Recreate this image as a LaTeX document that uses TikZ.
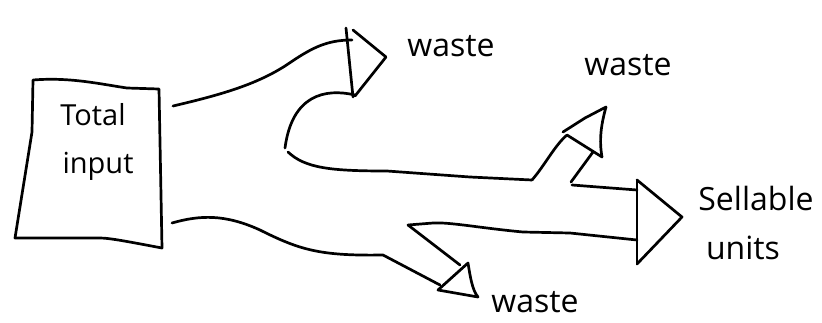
\documentclass[tikz,border=0pt]{standalone}
\usepackage{fontspec}
\setmainfont{Open Sans}
\begin{document}
\begin{tikzpicture}[x=1pt,y=-1pt,
  pen/.style={line width=2.7pt,line cap=round,line join=round,black},
  lbl/.style={inner sep=0pt,font=\fontsize{32}{34}\selectfont},
  lblsmall/.style={inner sep=0pt,font=\fontsize{29}{31}\selectfont}]
\useasboundingbox (0,0) rectangle (822,322);
% box
\draw[pen] (33,80) .. controls (70,77) and (100,84) .. (127,88) -- (159,89)
  -- (162,248) .. controls (130,242) and (110,238) .. (100,238) -- (15,238)
  -- (32,132) -- cycle;
\node[lblsmall] (total) at (93,115) {Total};
\node[lblsmall] (input) at (98,166) {input};
% top flow to top waste
\coordinate (t0) at (173,106);
\coordinate (tb1) at (346,28);
\coordinate (tb2) at (353,97);
\coordinate (ttip) at (386,57);
\draw[pen] (t0) .. controls (220,95) and (255,85) .. (285,66)
  .. controls (310,49) and (325,40) .. (352,40);
\draw[pen] (tb1) -- (tb2);
\draw[pen] (353,30) -- (ttip) -- (355,96);
\draw[pen] (355,95) .. controls (325,88) and (292,95) .. (285,148);
% middle flow
\draw[pen] (288,152) .. controls (305,168) and (330,171) .. (387,171)
  -- (470,177) -- (532,180);
\coordinate (wa) at (563,132);
\coordinate (wt) at (606,107);
\coordinate (wc) at (602,157);
\draw[pen] (532,180) .. controls (545,165) and (555,145) .. (567,135);
\draw[pen] (wa) -- (585,118) -- (wt) .. controls (601,125) and (599,140) .. (wc) -- (567,135);
\draw[pen] (571,182) -- (593,152);
\draw[pen] (572,185) -- (637,190);
% sellable arrow
\coordinate (sa) at (637,180);
\coordinate (stip) at (682,217);
\coordinate (sb) at (637,264);
\draw[pen] (sa) -- (sb);
\draw[pen] (sa) -- (stip) -- (sb);
\draw[pen] (637,240) -- (570,233) -- (523,232) .. controls (480,228) and (450,222) .. (433,223) -- (408,225);
% bottom waste
\draw[pen] (408,225) -- (460,265);
\draw[pen] (438,290) -- (468,263) .. controls (470,275) and (472,290) .. (478,297) -- cycle;
\draw[pen] (172,223) .. controls (200,215) and (225,214) .. (260,230)
  .. controls (300,250) and (320,256) .. (383,255) -- (440,285);
% labels
\node[lbl] (w1) at (451,46) {waste};
\node[lbl] (w2) at (628,65) {waste};
\node[lbl] (sell) at (756,198) {Sellable};
\node[lbl] (units) at (743,248) {units};
\node[lbl] (w3) at (535,302) {waste};
\end{tikzpicture}
\end{document}
